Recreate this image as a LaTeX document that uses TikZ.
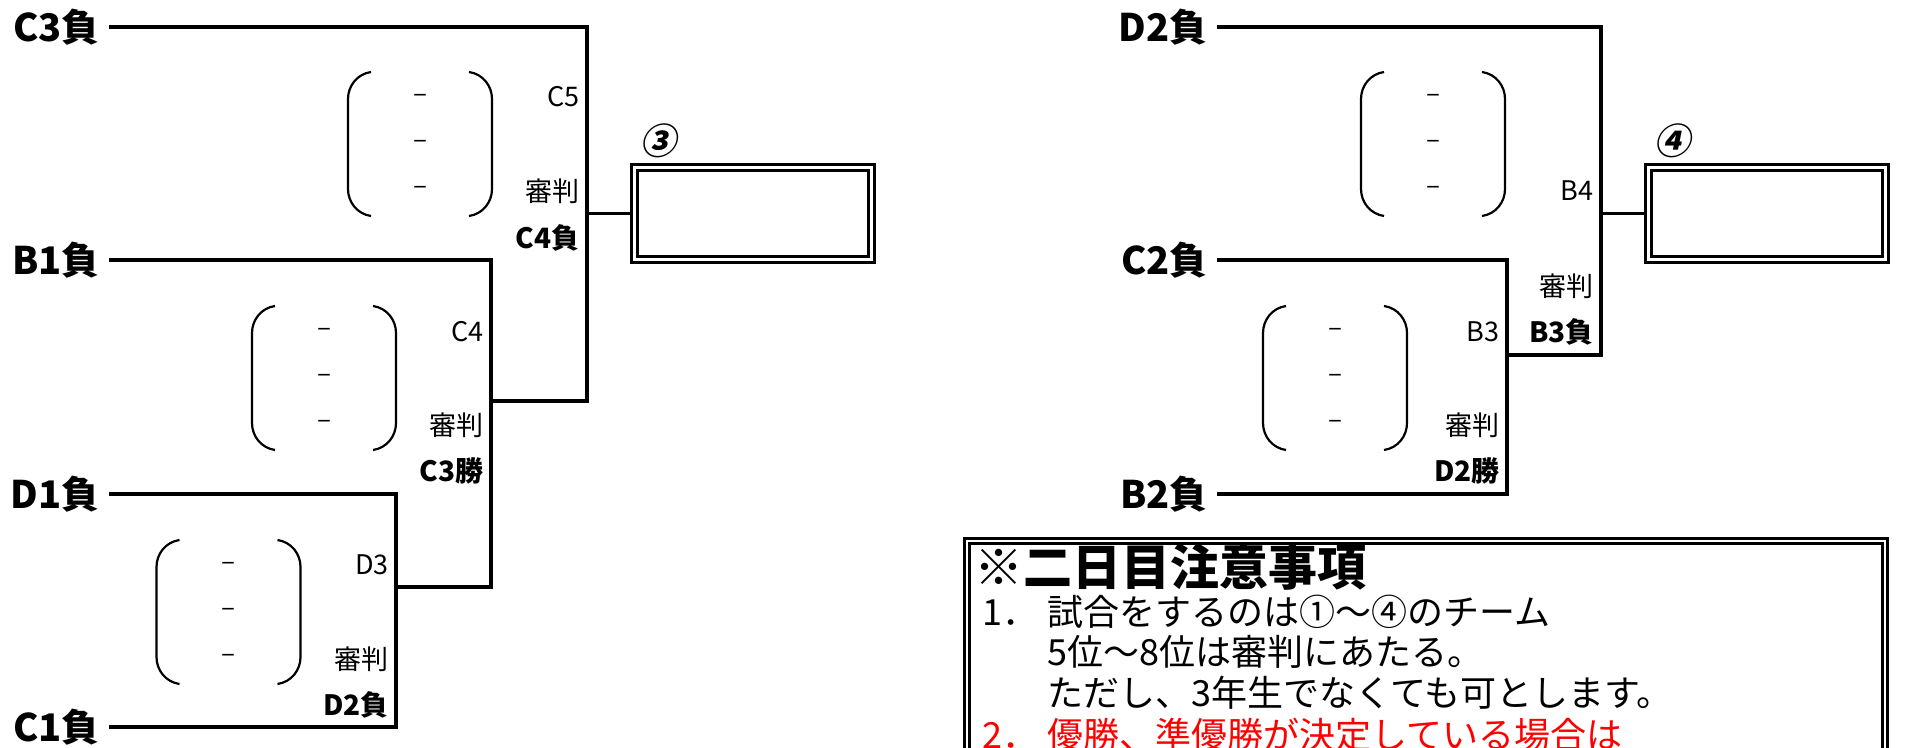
\documentclass[tikz,border=0pt]{standalone}
\usepackage{fontspec}
\setmainfont{Noto Sans CJK JP}
\newfontfamily\seedfont[FakeSlant=0.2]{Noto Sans CJK JP}
\usepackage{xcolor}
\usepackage{tikz}
\usetikzlibrary{positioning,calc}
\tikzset{
  team/.style={font=\fontsize{19pt}{21pt}\selectfont\bfseries, anchor=east, inner xsep=4.5pt, inner ysep=0pt},
  lbl/.style={font=\fontsize{13.5pt}{15pt}\selectfont, anchor=east, inner sep=0pt},
  lblb/.style={lbl, font=\fontsize{14pt}{16pt}\selectfont\bfseries},
  wire/.style={line width=1.8pt},
  result/.style={draw, double, line width=1.6pt, double distance=1.25pt, minimum width=118.5pt, minimum height=46pt, inner sep=0pt},
  paren/.style={line width=1.1pt},
  bar/.style={font=\fontsize{13pt}{15pt}\selectfont, inner sep=0pt},
  seed/.style={font=\seedfont\fontsize{18pt}{20pt}\selectfont\bfseries, inner sep=0pt},
  note/.style={font=\fontsize{18pt}{20pt}\selectfont, anchor=west, inner sep=0pt}
}
\begin{document}
\begin{tikzpicture}[x=0.5pt, y=-0.5pt]
    \useasboundingbox (0,0) rectangle (1905,748);
    \clip (0,0) rectangle (1905,748);

    % left bracket
    \node[team] (c3) at (109,27) {C3負};
    \node[team] (b1) at (109,260) {B1負};
    \node[team] (d1) at (109,494) {D1負};
    \node[team] (c1) at (109,727) {C1負};
    \coordinate (m1) at (396,587);
    \coordinate (m2) at (491,401);
    \coordinate (m3) at (587,213.5);
    \node[result] (box3) at (753,213.5) {};
    \node[seed] (s3) at ($(box3.north west)+(26,-25)$) {③};

    \draw[wire] (d1.east) -| (m1);
    \draw[wire] (c1.east) -| (m1);
    \draw[wire] (m1) -| (m2);
    \draw[wire] (b1.east) -| (m2);
    \draw[wire] (m2) -| (m3);
    \draw[wire] (c3.east) -| (m3);
    \draw[wire] (m3) -- (box3.west);

    \node[lbl] (g5) at (580,97) {C5};
    \node[lbl] (r5) at (580,191) {審判};
    \node[lblb] (w5) at (580,238) {C4負};
    \node[lbl] (g4) at (484,332) {C4};
    \node[lbl] (r4) at (484,425) {審判};
    \node[lblb] (w4) at (484,471) {C3勝};
    \node[lbl] (g3) at (389,565) {D3};
    \node[lbl] (r3) at (389,659) {審判};
    \node[lblb] (w3) at (389,705) {D2負};

    % right bracket
    \node[team] (d2) at (1217,27) {D2負};
    \node[team] (c2) at (1217,260) {C2負};
    \node[team] (b2) at (1217,494) {B2負};
    \coordinate (n1) at (1507,355);
    \coordinate (n2) at (1601,213.5);
    \node[result] (box4) at (1767,213.5) {};
    \node[seed] (s4) at ($(box4.north west)+(26,-25)$) {④};

    \draw[wire] (c2.east) -| (n1);
    \draw[wire] (b2.east) -| (n1);
    \draw[wire] (n1) -| (n2);
    \draw[wire] (d2.east) -| (n2);
    \draw[wire] (n2) -- (box4.west);

    \node[lbl] (gb4) at (1594,191) {B4};
    \node[lbl] (rb4) at (1594,286) {審判};
    \node[lblb] (wb4) at (1594,332) {B3負};
    \node[lbl] (gb3) at (1500,332) {B3};
    \node[lbl] (rb3) at (1500,425) {審判};
    \node[lblb] (wb3) at (1500,471) {D2勝};

    % score brackets
    \foreach \cx/\cy [count=\i] in {420/144, 324/378, 228.5/612, 1433/144, 1335/378} {
      \draw[paren] (\cx-49,\cy-72) .. controls (\cx-63,\cy-70) and (\cx-72,\cy-58) .. (\cx-72,\cy-45)
        -- (\cx-72,\cy+45) .. controls (\cx-72,\cy+58) and (\cx-63,\cy+70) .. (\cx-49,\cy+72);
      \draw[paren] (\cx+49,\cy-72) .. controls (\cx+63,\cy-70) and (\cx+72,\cy-58) .. (\cx+72,\cy-45)
        -- (\cx+72,\cy+45) .. controls (\cx+72,\cy+58) and (\cx+63,\cy+70) .. (\cx+49,\cy+72);
      \foreach \dy [count=\j] in {-46,0,46}
        \node[bar] (bar\i\j) at (\cx,\cy+\dy) {–};
    }

    % notes
    \draw[line width=1.6pt, double, double distance=1pt] (967,541) rectangle (1885,800);
    \node[note, font=\fontsize{24.5pt}{26pt}\selectfont\bfseries] (title) at (974,567) {※二日目注意事項};
    \node[note] (t1) at (982,612) {\makebox[32.5pt][l]{1．}試合をするのは①～④のチーム};
    \node[note] (t2) at (1047,652) {5位～8位は審判にあたる。};
    \node[note] (t3) at (1047,693) {ただし、3年生でなくても可とします。};
    \node[note, text=red] (t4) at (982,735) {\makebox[32.5pt][l]{2．}優勝、準優勝が決定している場合は};
\end{tikzpicture}
\end{document}
